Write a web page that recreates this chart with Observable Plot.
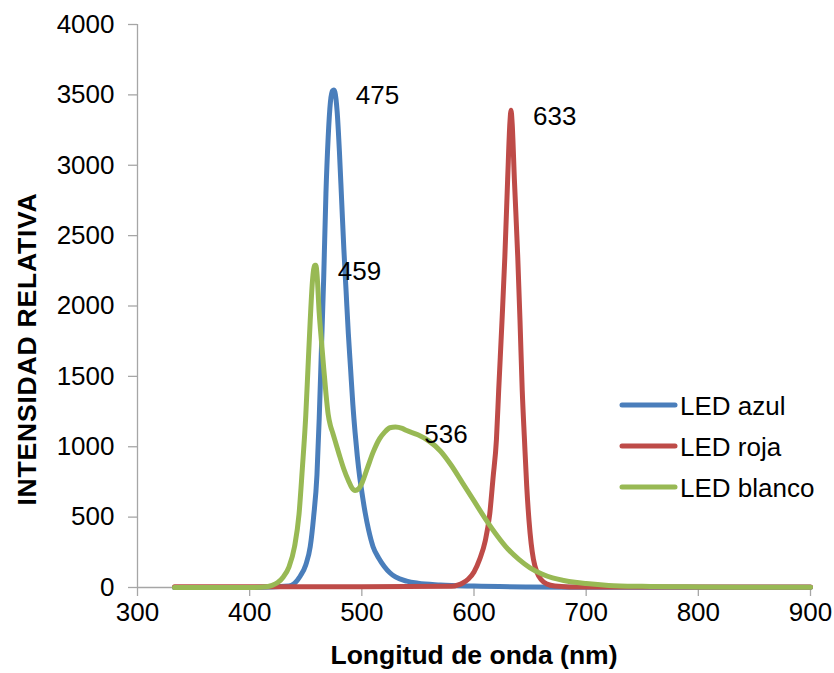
<!DOCTYPE html>
<html>
<head>
<meta charset="utf-8">
<script src="https://cdn.jsdelivr.net/npm/d3@7"></script>
<script src="https://cdn.jsdelivr.net/npm/@observablehq/plot@0.6"></script>
<style>
  body { margin: 0; background: #fff; }
  #chart { width: 834px; height: 673px; }
</style>
</head>
<body>
<div id="chart"></div>
<script>
// Emission spectra of three LEDs (relative intensity vs wavelength in nm)
const seriesNames = ["LED azul", "LED roja", "LED blanco"];
const seriesColors = ["#4a7ebb", "#be4b48", "#98b954"];

const nmAzul = [333, 400, 435, 440, 445, 450, 454, 457, 460, 462, 464, 466, 468, 470, 472, 474, 475, 476, 478, 480, 482, 484, 486, 488, 490, 492, 494, 496, 498, 500, 503, 506, 510, 515, 520, 525, 530, 540, 550, 570, 600, 650, 700, 900];
const valAzul = [0, 0, 10, 30, 80, 160, 290, 500, 800, 1200, 1700, 2200, 2800, 3200, 3450, 3530, 3535, 3520, 3380, 3100, 2750, 2400, 2100, 1800, 1550, 1300, 1100, 930, 790, 680, 530, 410, 290, 210, 150, 105, 75, 45, 30, 18, 10, 4, 2, 2];

const nmRoja = [333, 500, 580, 586, 590, 595, 600, 605, 610, 614, 617, 620, 622, 625, 627.5, 630, 632, 633, 634, 636, 639, 641, 643, 645, 647, 649, 651, 653, 656, 660, 665, 672, 685, 700, 900];
const valRoja = [5, 5, 8, 18, 32, 60, 110, 200, 330, 520, 780, 1050, 1400, 1900, 2350, 2900, 3300, 3390, 3300, 2900, 2350, 1900, 1400, 1050, 720, 480, 310, 200, 110, 55, 25, 10, 4, 3, 3];

const nmBlanco = [333, 400, 415, 420, 425, 430, 435, 440, 444, 447, 450, 452, 454, 456, 458, 459, 460, 462, 464, 466, 468, 470, 472, 474, 477, 480, 484, 488, 491, 494, 497, 500, 505, 510, 516, 520, 525, 530, 536, 540, 550, 560, 570, 580, 590, 600, 610, 620, 630, 640, 650, 660, 670, 680, 690, 700, 720, 750, 800, 850, 900];
const valBlanco = [0, 0, 5, 15, 35, 75, 145, 290, 520, 850, 1220, 1560, 1900, 2180, 2290, 2290, 2230, 1950, 1750, 1560, 1380, 1230, 1150, 1100, 1020, 940, 840, 760, 710, 690, 700, 740, 850, 960, 1060, 1100, 1135, 1140, 1130, 1115, 1085, 1040, 970, 865, 740, 615, 490, 375, 275, 200, 140, 98, 68, 50, 37, 28, 15, 8, 4, 2, 2];

// Peak wavelengths written beside each maximum
const peakSeries = ["LED azul", "LED roja", "LED blanco", "LED blanco"];
const peakNm = [475, 633, 459, 536];

const xTicks = [300, 400, 500, 600, 700, 800, 900];
const yTicks = [0, 500, 1000, 1500, 2000, 2500, 3000, 3500, 4000];

const sources = [[nmAzul, valAzul], [nmRoja, valRoja], [nmBlanco, valBlanco]];
const rows = seriesNames.flatMap((s, i) =>
  sources[i][0].map((nm, j) => ({serie: s, nm, val: sources[i][1][j]})));
const peaks = peakSeries.map((s, i) => {
  const r = rows.find(d => d.serie === s && d.nm === peakNm[i]);
  return {serie: s, nm: peakNm[i], val: r.val, label: String(peakNm[i])};
});

const font = "'Liberation Sans', Arial, sans-serif";
const axisGray = "#a6a6a6";

const plot = Plot.plot({
  width: 834,
  height: 673,
  marginLeft: 137,
  marginRight: 24,
  marginTop: 24,
  marginBottom: 86,
  style: {fontFamily: font, fontSize: "26px", color: "#000", background: "#fff", overflow: "visible"},
  x: {domain: [300, 900]},
  y: {domain: [0, 4000]},
  color: {domain: seriesNames, range: seriesColors},
  marks: [
    Plot.ruleX([300], {stroke: axisGray, strokeWidth: 1.3}),
    Plot.ruleY([0], {stroke: axisGray, strokeWidth: 1.3}),
    Plot.axisY({ticks: yTicks, tickSize: 9, tickPadding: 14, tickFormat: "d", stroke: axisGray, strokeWidth: 1.3, strokeOpacity: 1, label: null, fontSize: 26}),
    Plot.axisX({ticks: xTicks, tickSize: 9, tickPadding: 6, tickFormat: "d", stroke: axisGray, strokeWidth: 1.3, strokeOpacity: 1, label: null, fontSize: 26}),
    Plot.line(rows, {x: "nm", y: "val", z: "serie", stroke: "serie", strokeWidth: 5, curve: "monotone-x"}),
    Plot.text(peaks, {x: "nm", y: "val", text: "label", textAnchor: "start", dx: 22, dy: 6, fontSize: 26, fill: "#000"})
  ]
});

const svg = d3.select(plot);

// Axis titles
svg.append("text")
  .attr("x", 474).attr("y", 664)
  .attr("text-anchor", "middle")
  .attr("font-family", font).attr("font-weight", "bold").attr("font-size", 26.5)
  .attr("fill", "#000")
  .text("Longitud de onda (nm)");

svg.append("text")
  .attr("transform", "translate(36,349) rotate(-90)")
  .attr("text-anchor", "middle")
  .attr("font-family", font).attr("font-weight", "bold").attr("font-size", 26.5)
  .attr("letter-spacing", 0.8)
  .attr("fill", "#000")
  .text("INTENSIDAD RELATIVA");

// Legend: line swatch + name per series
const legend = svg.append("g")
  .attr("font-family", font).attr("font-size", 26).attr("text-anchor", "start");
seriesNames.forEach((s, i) => {
  const y = 405 + i * 41;
  legend.append("line")
    .attr("x1", 622).attr("x2", 675).attr("y1", y).attr("y2", y)
    .attr("stroke", seriesColors[i]).attr("stroke-width", 5).attr("stroke-linecap", "round");
  legend.append("text")
    .attr("x", 680).attr("y", y + 10)
    .attr("text-anchor", "start")
    .attr("fill", "#000")
    .text(s);
});

document.getElementById("chart").appendChild(plot);
</script>
</body>
</html>
